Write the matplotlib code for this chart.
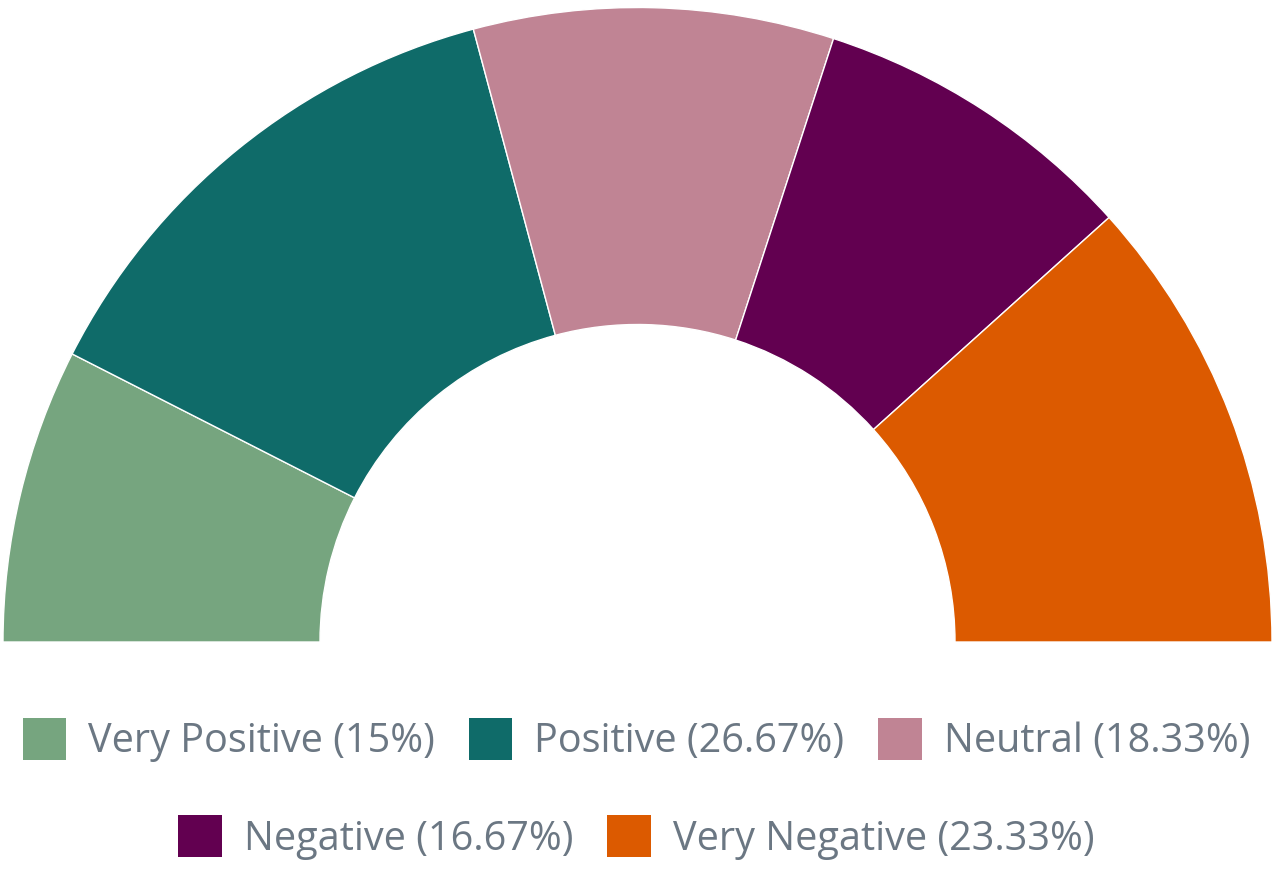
import matplotlib
matplotlib.use("Agg")
import matplotlib.pyplot as plt

labels = ["Very Positive", "Positive", "Neutral", "Negative", "Very Negative"]
values = [15, 26.67, 18.33, 16.67, 23.33]
colors = ["#76a57f", "#0f6b69", "#c08494", "#620050", "#dc5a00"]

plt.rcParams['font.family'] = ['Open Sans', 'DejaVu Sans']

fig = plt.figure(figsize=(12.73, 8.77), dpi=100)
ax = fig.add_axes([0, 0, 1, 1])

total = sum(values)
wedges, _ = ax.pie(values + [total], colors=colors + ["none"], startangle=180,
                   counterclock=False, radius=634.5, center=(637.5, 235),
                   wedgeprops=dict(width=317, edgecolor="white", linewidth=1))
wedges[-1].set_visible(False)
ax.set_xlim(0, 1273)
ax.set_ylim(0, 877)
ax.set_aspect("equal")
ax.axis("off")

leg_labels = [f"{l} ({v:g}%)" for l, v in zip(labels, values)]
common = dict(loc="center", frameon=False, fontsize=28.5, labelcolor="#6b7783",
              handlelength=1.1, handleheight=1.25, handletextpad=0.56,
              columnspacing=0.85, borderpad=0, borderaxespad=0)
leg1 = fig.legend(wedges[:3], leg_labels[:3], ncol=3,
                  bbox_to_anchor=(0.5, 0.156), **common)
leg2 = fig.legend(wedges[3:5], leg_labels[3:5], ncol=2,
                  bbox_to_anchor=(0.5, 0.045), **common)
for leg in (leg1, leg2):
    for h in leg.legend_handles:
        h.set_edgecolor("none")

fig.savefig("out.png", dpi=100)
